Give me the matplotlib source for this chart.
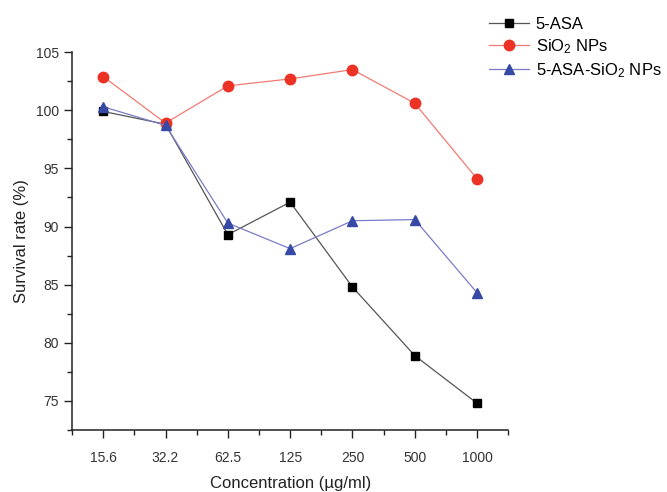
import matplotlib
matplotlib.use("Agg")
from matplotlib import pyplot as plt
from matplotlib.ticker import MultipleLocator

plt.rcParams['font.family'] = ['Liberation Sans', 'DejaVu Sans']
plt.rcParams['mathtext.fontset'] = 'custom'
plt.rcParams['mathtext.rm'] = 'Liberation Sans'
plt.rcParams['mathtext.it'] = 'Liberation Sans'

concentrations = ["15.6", "32.2", "62.5", "125", "250", "500", "1000"]
asa = [99.9, 98.8, 89.3, 92.1, 84.8, 78.9, 74.8]
sio2 = [102.9, 98.9, 102.1, 102.7, 103.5, 100.6, 94.1]
asa_sio2 = [100.3, 98.7, 90.3, 88.1, 90.5, 90.6, 84.3]

x = list(range(len(concentrations)))

fig = plt.figure(figsize=(6.67, 4.92), dpi=100)
ax = fig.add_axes([0.108, 0.126, 0.654, 0.768])

l1, = ax.plot(x, asa, color='#555555', lw=0.9, marker='s', ms=6,
              mfc='black', mec='black', label='5-ASA')
l2, = ax.plot(x, sio2, color='#f07a72', lw=0.9, marker='o', ms=7.5,
              mfc='#ec3224', mec='#ec3224', label='SiO$_2$ NPs')
l3, = ax.plot(x, asa_sio2, color='#7b7bc8', lw=0.9, marker='^', ms=7.5,
              mfc='#3549a5', mec='#3549a5', label='5-ASA-SiO$_2$ NPs')

ax.set_xlim(-0.5, 6.5)
ax.set_ylim(72.5, 105)
ax.set_xticks(x)
ax.set_xticklabels(concentrations)
ax.xaxis.set_minor_locator(MultipleLocator(0.5))
ax.yaxis.set_major_locator(MultipleLocator(5))
ax.yaxis.set_minor_locator(MultipleLocator(2.5))
ax.tick_params(which='major', direction='out', length=6, width=1,
               labelsize=10, colors='#222222', labelcolor='#333333')
ax.tick_params(which='minor', direction='out', length=3.5, width=1, colors='#222222')
ax.tick_params(axis='x', pad=9)

for s in ['top', 'right']:
    ax.spines[s].set_visible(False)
for s in ['left', 'bottom']:
    ax.spines[s].set_linewidth(1.1)
    ax.spines[s].set_color('#222222')

ax.set_xlabel('Concentration (\u00b5g/ml)', fontsize=12, color='#222222', labelpad=8)
ax.set_ylabel('Survival rate (%)', fontsize=12, color='#222222', labelpad=5)

fig.legend(handles=[l1, l2, l3], loc='upper left', bbox_to_anchor=(0.733, 0.965),
           frameon=False, fontsize=12, handlelength=2.4, labelspacing=0.3,
           handletextpad=0.4, borderpad=0, borderaxespad=0)

fig.savefig('out.png', dpi=100)
